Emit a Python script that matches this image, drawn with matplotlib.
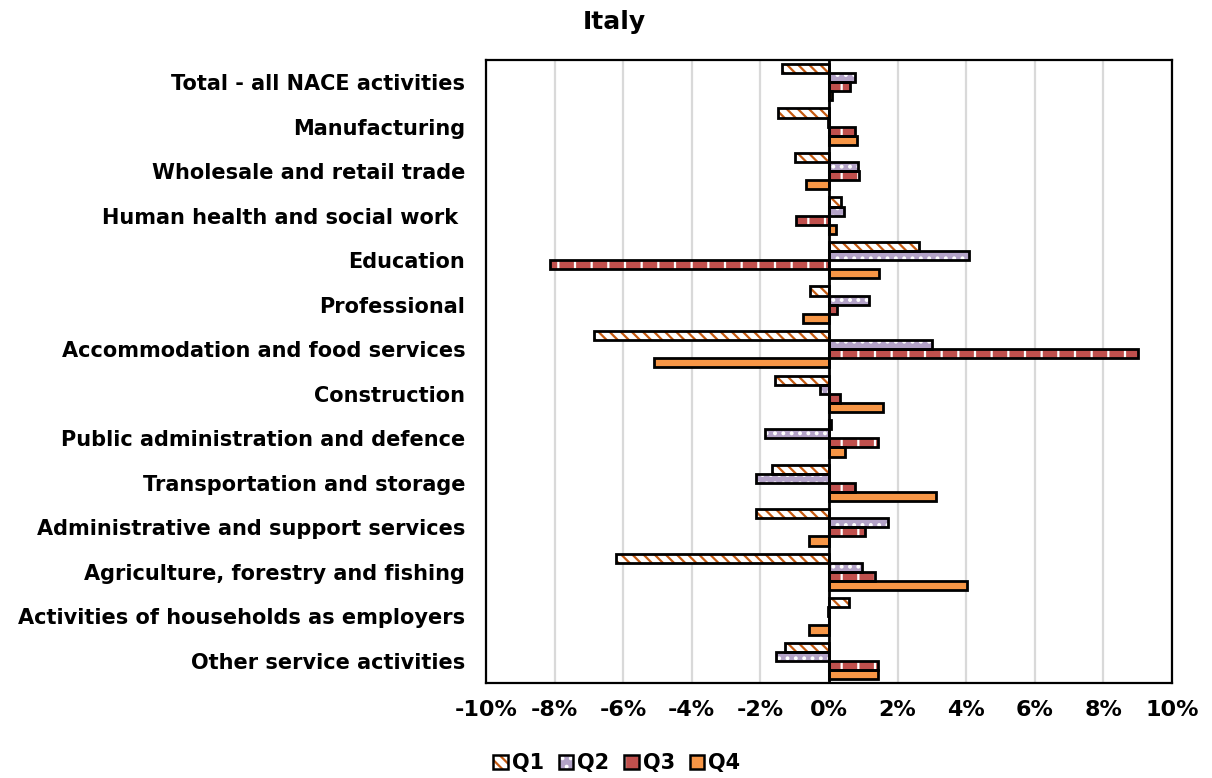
import matplotlib
matplotlib.use("Agg")
import matplotlib.pyplot as plt
import numpy as np
from matplotlib.patches import Patch
from matplotlib.legend_handler import HandlerTuple
from matplotlib.ticker import FuncFormatter

categories = [
    "Total - all NACE activities",
    "Manufacturing",
    "Wholesale and retail trade",
    "Human health and social work ",
    "Education",
    "Professional",
    "Accommodation and food services",
    "Construction",
    "Public administration and defence",
    "Transportation and storage",
    "Administrative and support services",
    "Agriculture, forestry and fishing",
    "Activities of households as employers",
    "Other service activities",
]
q1 = [-1.38, -1.50, -0.99, 0.36, 2.61, -0.56, -6.86, -1.57, 0.05, -1.65, -2.13, -6.21, 0.59, -1.27]
q2 = [0.77, -0.03, 0.85, 0.45, 4.08, 1.16, 3.00, -0.25, -1.88, -2.14, 1.73, 0.96, -0.03, -1.54]
q3 = [0.60, 0.75, 0.87, -0.95, -8.12, 0.23, 9.00, 0.33, 1.44, 0.77, 1.06, 1.34, 0.00, 1.44]
q4 = [0.09, 0.81, -0.68, 0.19, 1.47, -0.75, -5.10, 1.57, 0.48, 3.11, -0.58, 4.03, -0.57, 1.43]
series_names = ["Q1", "Q2", "Q3", "Q4"]
x_ticks = [-10, -8, -6, -4, -2, 0, 2, 4, 6, 8, 10]

plt.rcParams['font.family'] = ['DejaVu Sans']
plt.rcParams['hatch.linewidth'] = 1.6

fig = plt.figure(figsize=(12.12, 7.78), dpi=100)
ax = fig.add_axes([0.401, 0.122, 0.566, 0.801])

styles = [
    dict(face="white", hatch="\\\\\\", hcolor="#C55A11"),
    dict(face="#B3A2C7", hatch="..", hcolor="white"),
    dict(face="#C0504D", hatch="|", hcolor="white"),
    dict(face="#F79646", hatch=None, hcolor=None),
]

y = np.arange(len(categories))
h = 0.205
offsets = [-1.5 * h, -0.5 * h, 0.5 * h, 1.5 * h]
data = [q1, q2, q3, q4]

for vals, off, st in zip(data, offsets, styles):
    if st["hatch"]:
        ax.barh(y + off, vals, height=h, color=st["face"], hatch=st["hatch"],
                edgecolor=st["hcolor"], linewidth=0, zorder=3)
    else:
        ax.barh(y + off, vals, height=h, color=st["face"], linewidth=0, zorder=3)
    ax.barh(y + off, vals, height=h, fill=False, edgecolor="black", linewidth=2.0, zorder=4)

ax.set_xlim(-10, 10)
ax.set_ylim(len(categories) - 0.5, -0.5)
ax.set_xticks(x_ticks)
ax.xaxis.set_major_formatter(FuncFormatter(lambda v, p: f"{int(round(v))}%"))
ax.set_yticks(y)
ax.set_yticklabels(categories, fontsize=15, fontweight="bold")
for lab in ax.get_xticklabels():
    lab.set_fontweight("bold")
    lab.set_fontsize(16)
ax.tick_params(axis="both", length=0)
ax.tick_params(axis="x", pad=12)
ax.tick_params(axis="y", pad=15)

ax.grid(axis="x", color="#D9D9D9", linewidth=1.6, zorder=0)
ax.set_axisbelow(True)
ax.axvline(0, color="black", linewidth=2.0, zorder=5)
for sp in ax.spines.values():
    sp.set_color("black")
    sp.set_linewidth(1.6)

fig.text(0.507, 0.972, "Italy", ha="center", va="center", fontsize=18, fontweight="bold")

handles = []
for st, name in zip(styles, series_names):
    if st["hatch"]:
        fillp = Patch(facecolor=st["face"], hatch=st["hatch"], edgecolor=st["hcolor"], linewidth=0)
    else:
        fillp = Patch(facecolor=st["face"], linewidth=0)
    outline = Patch(fill=False, edgecolor="black", linewidth=1.8)
    handles.append((fillp, outline))
leg = fig.legend(handles=handles, labels=series_names, loc="center",
                 bbox_to_anchor=(0.509, 0.019), ncol=4,
                 handler_map={tuple: HandlerTuple(ndivide=1, pad=0)},
                 frameon=False, prop={"weight": "bold", "size": 15},
                 handlelength=0.7, handleheight=0.7, handletextpad=0.2, columnspacing=0.7)

fig.savefig("out.png", dpi=100)
